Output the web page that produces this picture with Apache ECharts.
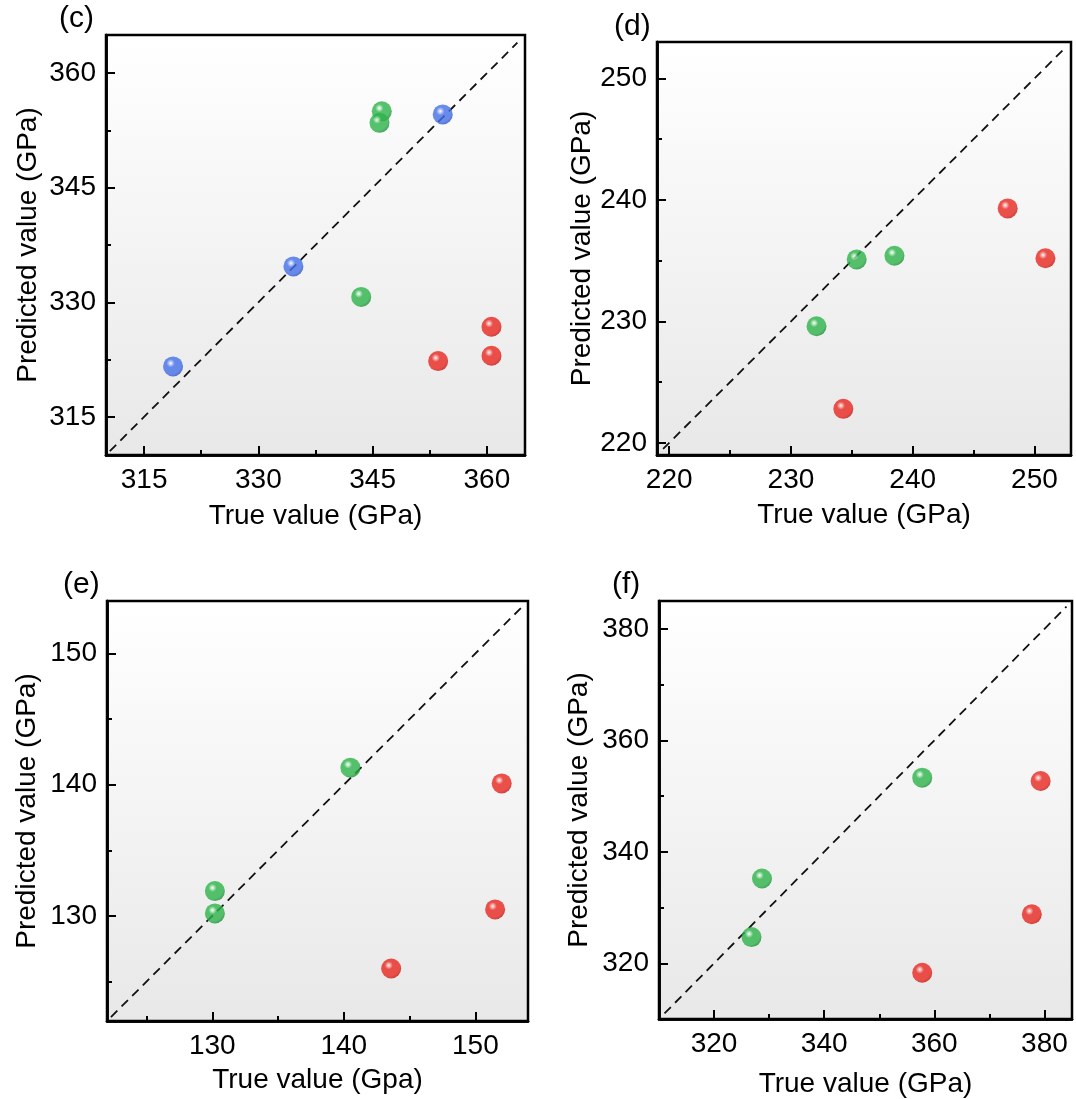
<!DOCTYPE html>
<html>
<head>
<meta charset="utf-8">
<script src="https://cdn.jsdelivr.net/npm/echarts@6/dist/echarts.min.js"></script>
<style>
  html, body { margin: 0; padding: 0; background: #fff; }
  #chart { width: 1076px; height: 1099px; }
</style>
</head>
<body>
<div id="chart"></div>
<script>
// panel texts
const panelLabels = ['(c)', '(d)', '(e)', '(f)'];
const xNames = ['True value (GPa)', 'True value (GPa)', 'True value (Gpa)', 'True value (GPa)'];
const yName = 'Predicted value (GPa)';

// axis ranges and ticks (same for x and y in each panel)
const axisRanges = [[310, 365], [219, 253], [122, 154], [310, 385]];
const majorTicks = [[315, 330, 345, 360], [220, 230, 240, 250], [130, 140, 150], [320, 340, 360, 380]];
const minorTicks = [[322.5, 337.5, 352.5], [225, 235, 245], [125, 135, 145], [330, 350, 370]];

// y = x reference line ends
const diagonals = [[310.5, 364], [219.5, 252.3], [122.3, 153.5], [311, 384]];

// [true, predicted]
const cBlue = [[318.8, 321.6], [334.6, 334.7], [354.2, 354.6]];
const cGreen = [[346.2, 355.0], [345.9, 353.5], [343.5, 330.7]];
const cRed = [[353.6, 322.3], [360.6, 326.8], [360.6, 323.0]];
const dGreen = [[232.1, 229.6], [235.4, 235.1], [238.5, 235.4]];
const dRed = [[234.3, 222.8], [247.8, 239.3], [250.9, 235.2]];
const eGreen = [[140.5, 141.3], [130.2, 131.9], [130.2, 130.2]];
const eRed = [[152.0, 140.1], [151.5, 130.5], [143.6, 126.0]];
const fGreen = [[357.8, 353.3], [328.7, 335.2], [326.8, 324.7]];
const fRed = [[379.3, 352.7], [377.7, 328.8], [357.8, 318.3]];

const panelSeries = [
  [['red', cRed], ['green', cGreen], ['blue', cBlue]],
  [['red', dRed], ['green', dGreen]],
  [['red', eRed], ['green', eGreen]],
  [['red', fRed], ['green', fGreen]]
];

// layout
const boxes = [
  { left: 106, top: 35, width: 419, height: 420 },
  { left: 657, top: 42, width: 414, height: 413 },
  { left: 107, top: 601, width: 421, height: 420 },
  { left: 659, top: 601, width: 413, height: 421 }
];
const labelPos = [[59, 4], [614, 12], [63, 570], [612, 570]];
const yNameGaps = [64, 60, 66, 66];
const xNameGaps = [47, 46, 45, 51];

const ballColors = {
  red: ['#f7b0aa', '#e8261f', '#c41710'],
  green: ['#b8ecc0', '#2db34a', '#1d8c35'],
  blue: ['#c0cffa', '#4470e8', '#2f52c0']
};

const FONT = 'Liberation Sans, Arial, sans-serif';
const FS = 28;

const ball = (name) => {
  const c = ballColors[name];
  return new echarts.graphic.RadialGradient(0.38, 0.34, 0.68, [
    { offset: 0, color: '#ffffff' },
    { offset: 0.1, color: c[0] },
    { offset: 0.3, color: c[1] },
    { offset: 0.8, color: c[1] },
    { offset: 1, color: c[2] }
  ]);
};

const grid = [], xAxis = [], yAxis = [], series = [], title = [];

boxes.forEach((b, i) => {
  grid.push({
    ...b,
    show: true,
    borderColor: '#000',
    borderWidth: 2.5,
    backgroundColor: new echarts.graphic.LinearGradient(0, 0, 0, 1, [
      { offset: 0, color: '#ffffff' },
      { offset: 1, color: '#e8e8e8' }
    ])
  });

  title.push({
    text: panelLabels[i],
    left: labelPos[i][0],
    top: labelPos[i][1],
    padding: 0,
    textStyle: { fontFamily: FONT, fontSize: 30, fontWeight: 'normal', color: '#000' }
  });

  const [mn, mx] = axisRanges[i];
  const common = {
    type: 'value',
    gridIndex: i,
    min: mn,
    max: mx,
    splitLine: { show: false },
    axisLine: { show: true, onZero: false, lineStyle: { color: '#000', width: 2.5 } }
  };

  // major axis with labels
  xAxis.push({
    ...common,
    position: 'bottom',
    name: xNames[i],
    nameLocation: 'middle',
    nameGap: xNameGaps[i],
    nameTextStyle: { fontFamily: FONT, fontSize: FS, color: '#000', verticalAlign: 'top' },
    axisTick: { inside: true, length: 9, customValues: majorTicks[i], lineStyle: { color: '#000', width: 2 } },
    axisLabel: { customValues: majorTicks[i], margin: 11, fontFamily: FONT, fontSize: FS, color: '#000' }
  });
  yAxis.push({
    ...common,
    position: 'left',
    name: yName,
    nameLocation: 'middle',
    nameRotate: 90,
    nameGap: yNameGaps[i],
    nameTextStyle: { fontFamily: FONT, fontSize: FS, color: '#000' },
    axisTick: { inside: true, length: 9, customValues: majorTicks[i], lineStyle: { color: '#000', width: 2 } },
    axisLabel: { customValues: majorTicks[i], margin: 10, fontFamily: FONT, fontSize: FS, color: '#000' }
  });
  // minor tick axes, same scale, no labels
  xAxis.push({
    ...common,
    position: 'bottom',
    offset: 0,
    axisTick: { inside: true, length: 5, customValues: minorTicks[i], lineStyle: { color: '#000', width: 2 } },
    axisLabel: { show: false }
  });
  yAxis.push({
    ...common,
    position: 'left',
    offset: 0,
    axisTick: { inside: true, length: 5, customValues: minorTicks[i], lineStyle: { color: '#000', width: 2 } },
    axisLabel: { show: false }
  });

  const xi = i * 2, yi = i * 2;
  const [d0, d1] = diagonals[i];
  series.push({
    type: 'line',
    xAxisIndex: xi,
    yAxisIndex: yi,
    data: [[d0, d0], [d1, d1]],
    symbol: 'none',
    silent: true,
    lineStyle: { color: '#111', width: 1.8, type: [9, 6] },
    z: 1
  });

  panelSeries[i].forEach(([name, pts]) => {
    series.push({
      type: 'scatter',
      xAxisIndex: xi,
      yAxisIndex: yi,
      data: pts,
      symbolSize: 20,
      itemStyle: { color: ball(name) },
      z: 3
    });
  });
});

const chart = echarts.init(document.getElementById('chart'));
chart.setOption({
  backgroundColor: '#fff',
  animation: false,
  title,
  grid,
  xAxis,
  yAxis,
  series
});
</script>
</body>
</html>
